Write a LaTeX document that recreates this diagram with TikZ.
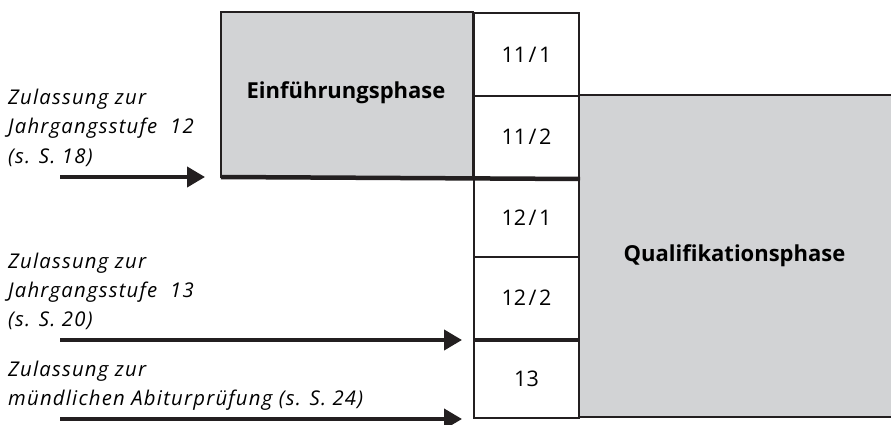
\documentclass[tikz,border=0pt]{standalone}
\usepackage{fontspec}
\setmainfont{Open Sans}
\newfontfamily\lblfont[LetterSpace=6]{Open Sans}
\usetikzlibrary{arrows.meta}
\definecolor{phasegray}{HTML}{D2D3D5}
\definecolor{ink}{HTML}{231F20}
\newcommand{\sem}[2]{#1\hspace{2.5pt}/\hspace{2.5pt}#2}
\begin{document}
\begin{tikzpicture}[x=1pt,y=-1pt,
  cell/.style={draw=ink,line width=2pt,fill=white,inner sep=0pt,
    minimum width=105pt,font=\fontsize{21.5}{24}\selectfont},
  phase/.style={fill=phasegray,inner sep=0pt,font=\fontsize{22}{26}\selectfont\bfseries},
  lbl/.style={anchor=base west,inner sep=0pt,font=\lblfont\fontsize{20.3}{29}\selectfont\itshape},
  entry/.style={ink,line width=4pt,-{Triangle[length=18pt,width=20pt]}},
  thick rule/.style={ink,line width=4.5pt}
]
\useasboundingbox[fill=white] (0,0) rectangle (891,425);
% Qualifikationsphase
\node[phase,minimum width=340pt,minimum height=322pt,anchor=north west] (quali) at (578,95) {};
\node[phase,fill=none] (qualitext) at (734.5,256) {Qualifikationsphase};
\draw[ink,line width=2pt] (quali.north east) -- (quali.north west) -- (quali.south west) -- (quali.south east);
% Einfuehrungsphase
\node[phase,draw=ink,line width=2pt,outer sep=0pt,minimum width=252pt,minimum height=165pt,anchor=north west] (einf) at (221,12) {};
\node[phase,fill=none] (einftext) at (346,93) {Einführungsphase};
% column
\node[cell,minimum height=83pt,anchor=north west] (c111) at (473,12) {\sem{11}{1}};
\node[cell,minimum height=82pt,anchor=north west] (c112) at (473,95) {\sem{11}{2}};
\node[cell,minimum height=79pt,anchor=north west] (c121) at (473,177) {\sem{12}{1}};
\node[cell,minimum height=82pt,anchor=north west] (c122) at (473,256) {\sem{12}{2}};
\node[cell,minimum height=79pt,anchor=north west] (c13) at (473,338) {13};
% thick rules
\draw[thick rule] (einf.south west) -- (c112.south east);
\draw[thick rule] (c122.south west) -- (c122.south east);
% labels
\node[lbl] (l1a) at (8,105) {Zulassung zur};
\node[lbl] (l1b) at (8,134) {Jahrgangsstufe\ \ 12};
\node[lbl] (l1c) at (8,163) {(s. S. 18)};
\node[lbl] (l2a) at (8,268) {Zulassung zur};
\node[lbl] (l2b) at (8,297) {Jahrgangsstufe\ \ 13};
\node[lbl] (l2c) at (8,326) {(s. S. 20)};
\node[lbl] (l3a) at (8,376) {Zulassung zur};
\node[lbl] (l3b) at (8,405) {mündlichen Abiturprüfung (s. S. 24)};
% arrows
\coordinate (a1e) at ([xshift=-16pt]einf.south west);
\coordinate (a2e) at ([xshift=-11pt]c122.south west);
\coordinate (a3e) at ([xshift=-11pt]c13.south west);
\path (a1e) ++(-145,0) coordinate (a1s);
\path (a2e) ++(-402,0) coordinate (a2s);
\path (a3e) ++(-402,0) coordinate (a3s);
\draw[entry] (a1s) -- (a1e);
\draw[entry] (a2s) -- (a2e);
\draw[entry] (a3s) -- (a3e);
\end{tikzpicture}
\end{document}
